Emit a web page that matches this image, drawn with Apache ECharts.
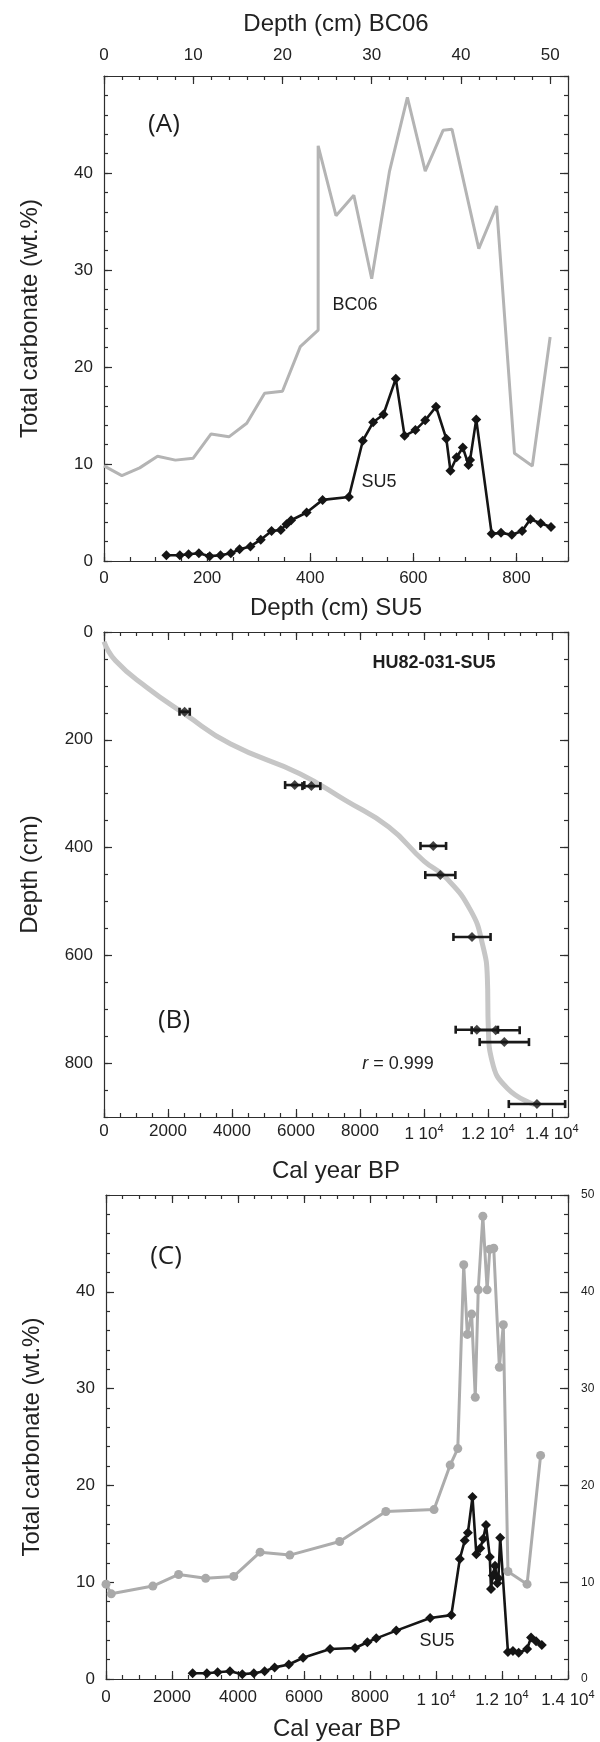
<!DOCTYPE html>
<html>
<head>
<meta charset="utf-8">
<script src="https://cdn.jsdelivr.net/npm/echarts@6/dist/echarts.min.js"></script>
<style>
  html, body { margin: 0; padding: 0; background: #fff; }
  #chart { width: 600px; height: 1742px; }
</style>
</head>
<body>
<div id="chart"></div>
<script>
// BC06 box core: depth (cm), total carbonate (wt.%), calibrated age (yr BP)
var bc06Depth = [0, 2, 4, 6, 8, 10, 12, 14, 16, 18, 20, 22, 24, 24, 26, 28, 30, 32, 34, 36, 38, 39, 42, 44, 46, 48, 50];
var bc06Carb = [9.8, 8.8, 9.6, 10.8, 10.4, 10.6, 13.1, 12.8, 14.2, 17.3, 17.5, 22.1, 23.8, 42.8, 35.6, 37.7, 29.1, 40.2, 47.8, 40.2, 44.4, 44.5, 32.2, 36.6, 11.1, 9.8, 23.1];
var bc06Age = [0, 160, 1420, 2200, 3020, 3870, 4670, 5570, 7080, 8480, 9940, 10430, 10660, 10840, 10950, 11080, 11190, 11280, 11420, 11550, 11630, 11750, 11920, 12040, 12180, 12760, 13170];

// SU5 piston core
var su5Depth = [121, 147, 164, 184, 205, 226, 246, 263, 284, 304, 325, 343, 354, 363, 393, 424, 475, 502, 522, 542, 566, 583, 604, 623, 644, 664, 672, 684, 696, 707, 710, 722, 752, 770, 791, 811, 827, 847, 867];
var su5Carb = [0.6, 0.6, 0.7, 0.8, 0.5, 0.6, 0.8, 1.2, 1.5, 2.2, 3.1, 3.2, 3.8, 4.2, 5.0, 6.3, 6.6, 12.4, 14.3, 15.1, 18.8, 12.9, 13.5, 14.5, 15.9, 12.6, 9.3, 10.7, 11.7, 9.9, 10.4, 14.6, 2.8, 2.9, 2.7, 3.1, 4.3, 3.9, 3.5];
var su5Age = [2625, 3056, 3382, 3756, 4130, 4480, 4806, 5110, 5540, 5972, 6790, 7547, 7920, 8190, 8796, 9822, 10465, 10721, 10871, 10966, 11106, 11222, 11340, 11431, 11515, 11631, 11666, 11720, 11790, 11860, 11890, 11946, 12180, 12331, 12506, 12762, 12881, 13032, 13207];

// SU5 dated levels (cal yr BP +/- error) and age-depth fit
var datAge = [2520, 5960, 6480, 10290, 10510, 11500, 11650, 12240, 12510, 13530];
var datDepth = [148, 284, 286, 397, 451, 566, 738, 739, 761, 876];
var datErr = [160, 300, 280, 400, 470, 580, 660, 750, 770, 880];
var curveAge = [0, 355, 1320, 2520, 3960, 6120, 7560, 8900, 10000, 10690, 11470, 11830, 11980, 12010, 12130, 12610, 13450];
var curveDepth = [18, 53, 102, 152, 208, 263, 313, 362, 425, 456, 518, 580, 642, 735, 797, 847, 877];

var FONT = '"Liberation Sans", Arial, Helvetica, sans-serif';
var INK = '#2e2e2e';

function pairs(xs, ys) {
  return xs.map(function (x, i) { return [x, ys[i]]; });
}

function ageLabel(v) {
  if (v < 10000) return String(v);
  return '{n|' + (v / 10000) + ' 10}{sup|4}';
}

var ageRich = {
  n: { fontFamily: FONT, fontSize: 17, color: '#222', verticalAlign: 'bottom' },
  sup: { fontFamily: FONT, fontSize: 11, color: '#222', verticalAlign: 'bottom', padding: [0, 0, 9, 0] }
};

// one side of a panel frame; minor ones only carry the short ticks
function side(grid, pos, min, max, step, o) {
  o = o || {};
  var lab = { show: false };
  if (o.label) {
    lab = {
      show: true, fontFamily: FONT, fontSize: o.fontSize || 17, color: '#222',
      margin: o.margin, showMaxLabel: o.showMax ? true : false, showMinLabel: true
    };
    if (o.ages) { lab.formatter = ageLabel; lab.rich = ageRich; }
  }
  return {
    type: 'value', gridIndex: grid, position: pos,
    min: min, max: max, interval: step, inverse: !!o.inverse,
    name: o.name || '', nameLocation: 'middle', nameGap: o.nameGap || 0,
    nameTextStyle: { fontFamily: FONT, fontSize: 24, color: '#222' },
    axisLine: { show: !o.minor, onZero: false, lineStyle: { color: INK, width: 1.2 } },
    axisTick: { show: true, inside: true, length: o.minor ? 4 : 8, lineStyle: { color: INK, width: 1.2 } },
    axisLabel: lab,
    splitLine: { show: false }
  };
}

var xAxes = [
  side(0, 'bottom', 0, 900, 200, { label: true, margin: 9, name: 'Depth (cm) SU5', nameGap: 35 }),
  side(0, 'top', 0, 52, 10, { label: true, margin: 12, name: 'Depth (cm) BC06', nameGap: 40 }),
  side(1, 'bottom', 0, 14500, 2000, { label: true, margin: 6, ages: true, name: 'Cal year BP', nameGap: 42 }),
  side(1, 'top', 0, 14500, 2000),
  side(2, 'bottom', 0, 14000, 2000, { label: true, margin: 10, ages: true, showMax: true, name: 'Cal year BP', nameGap: 38 }),
  side(2, 'top', 0, 14000, 2000),
  side(0, 'bottom', 0, 900, 50, { minor: true }),
  side(0, 'top', 0, 52, 2, { minor: true }),
  side(1, 'bottom', 0, 14500, 500, { minor: true }),
  side(1, 'top', 0, 14500, 500, { minor: true }),
  side(2, 'bottom', 0, 14000, 500, { minor: true }),
  side(2, 'top', 0, 14000, 500, { minor: true })
];

var yAxes = [
  side(0, 'left', 0, 50, 10, { label: true, margin: 11, name: 'Total carbonate (wt.%)', nameGap: 62 }),
  side(0, 'right', 0, 50, 10),
  side(1, 'left', 0, 900, 200, { label: true, margin: 11, inverse: true, name: 'Depth (cm)', nameGap: 62 }),
  side(1, 'right', 0, 900, 200, { inverse: true }),
  side(2, 'left', 0, 50, 10, { label: true, margin: 11, name: 'Total carbonate (wt.%)', nameGap: 62 }),
  side(2, 'right', 0, 50, 10, { label: true, margin: 13, fontSize: 12, showMax: true }),
  side(0, 'left', 0, 50, 2, { minor: true }),
  side(0, 'right', 0, 50, 2, { minor: true }),
  side(1, 'left', 0, 900, 50, { minor: true, inverse: true }),
  side(1, 'right', 0, 900, 50, { minor: true, inverse: true }),
  side(2, 'left', 0, 50, 2, { minor: true }),
  side(2, 'right', 0, 50, 2, { minor: true })
];

var errData = datAge.map(function (a, i) { return [a, datDepth[i], datErr[i]]; });

var GRAY = '#b4b4b4';
var BLACK = '#151515';

function txt(x, y, text, size, extra) {
  var st = { text: text, x: x, y: y, fill: '#1e1e1e', font: size + 'px ' + FONT, align: 'center', verticalAlign: 'middle' };
  for (var k in extra) st[k] = extra[k];
  return { type: 'text', z: 100, style: st };
}

var chart = echarts.init(document.getElementById('chart'));

var option = {
  backgroundColor: '#fff',
  animation: false,
  grid: [
    { left: 104, top: 76, width: 464, height: 485 },
    { left: 104, top: 632, width: 464, height: 485 },
    { left: 106, top: 1195, width: 462, height: 485 }
  ],
  xAxis: xAxes,
  yAxis: yAxes,
  series: [
    {
      name: 'BC06', type: 'line', xAxisIndex: 1, yAxisIndex: 0,
      data: pairs(bc06Depth, bc06Carb), showSymbol: false, symbol: 'none',
      lineStyle: { color: GRAY, width: 3 }
    },
    {
      name: 'SU5', type: 'line', xAxisIndex: 0, yAxisIndex: 0,
      data: pairs(su5Depth, su5Carb), symbol: 'diamond', symbolSize: 10,
      itemStyle: { color: BLACK }, lineStyle: { color: BLACK, width: 2.6 }
    },
    {
      name: 'fit', type: 'line', xAxisIndex: 2, yAxisIndex: 2, smooth: 0.5,
      data: pairs(curveAge, curveDepth), symbol: 'none',
      lineStyle: { color: '#c6c6c6', width: 5 }
    },
    {
      name: 'error', type: 'custom', xAxisIndex: 2, yAxisIndex: 2,
      data: errData, encode: { x: 0, y: 1 }, z: 5,
      renderItem: function (params, api) {
        var y = api.value(1);
        var lo = api.coord([api.value(0) - api.value(2), y]);
        var hi = api.coord([api.value(0) + api.value(2), y]);
        var st = { stroke: '#1a1a1a', lineWidth: 2.6 };
        return {
          type: 'group', children: [
            { type: 'line', shape: { x1: lo[0], y1: lo[1], x2: hi[0], y2: hi[1] }, style: st },
            { type: 'line', shape: { x1: lo[0], y1: lo[1] - 4, x2: lo[0], y2: lo[1] + 4 }, style: st },
            { type: 'line', shape: { x1: hi[0], y1: hi[1] - 4, x2: hi[0], y2: hi[1] + 4 }, style: st }
          ]
        };
      }
    },
    {
      name: 'dates', type: 'scatter', xAxisIndex: 2, yAxisIndex: 2, z: 6,
      data: pairs(datAge, datDepth), symbol: 'diamond', symbolSize: 10,
      itemStyle: { color: BLACK }
    },
    {
      name: 'BC06 age', type: 'line', xAxisIndex: 4, yAxisIndex: 4,
      data: pairs(bc06Age, bc06Carb), symbol: 'circle', symbolSize: 9,
      itemStyle: { color: '#a9a9a9' }, lineStyle: { color: '#acacac', width: 3 }
    },
    {
      name: 'SU5 age', type: 'line', xAxisIndex: 4, yAxisIndex: 4,
      data: pairs(su5Age, su5Carb), symbol: 'diamond', symbolSize: 10,
      itemStyle: { color: BLACK }, lineStyle: { color: BLACK, width: 2.6 }
    }
  ],
  graphic: [
    txt(164, 125, '(A)', 26, { font: '26px "Open Sans", sans-serif' }),
    txt(355, 305, 'BC06', 18),
    txt(379, 482, 'SU5', 18),
    txt(434, 663, 'HU82-031-SU5', 18, { font: 'bold 18px ' + FONT }),
    txt(174, 1021, '(B)', 26, { font: '26px "Open Sans", sans-serif' }),
    txt(398, 1064, '{i|r} = 0.999', 18, { rich: { i: { font: 'italic 18px ' + FONT, fill: '#1e1e1e' } } }),
    txt(166, 1257, '(C)', 26, { font: '26px "Open Sans", sans-serif' }),
    txt(437, 1641, 'SU5', 18)
  ]
};

chart.setOption(option);
</script>
</body>
</html>
